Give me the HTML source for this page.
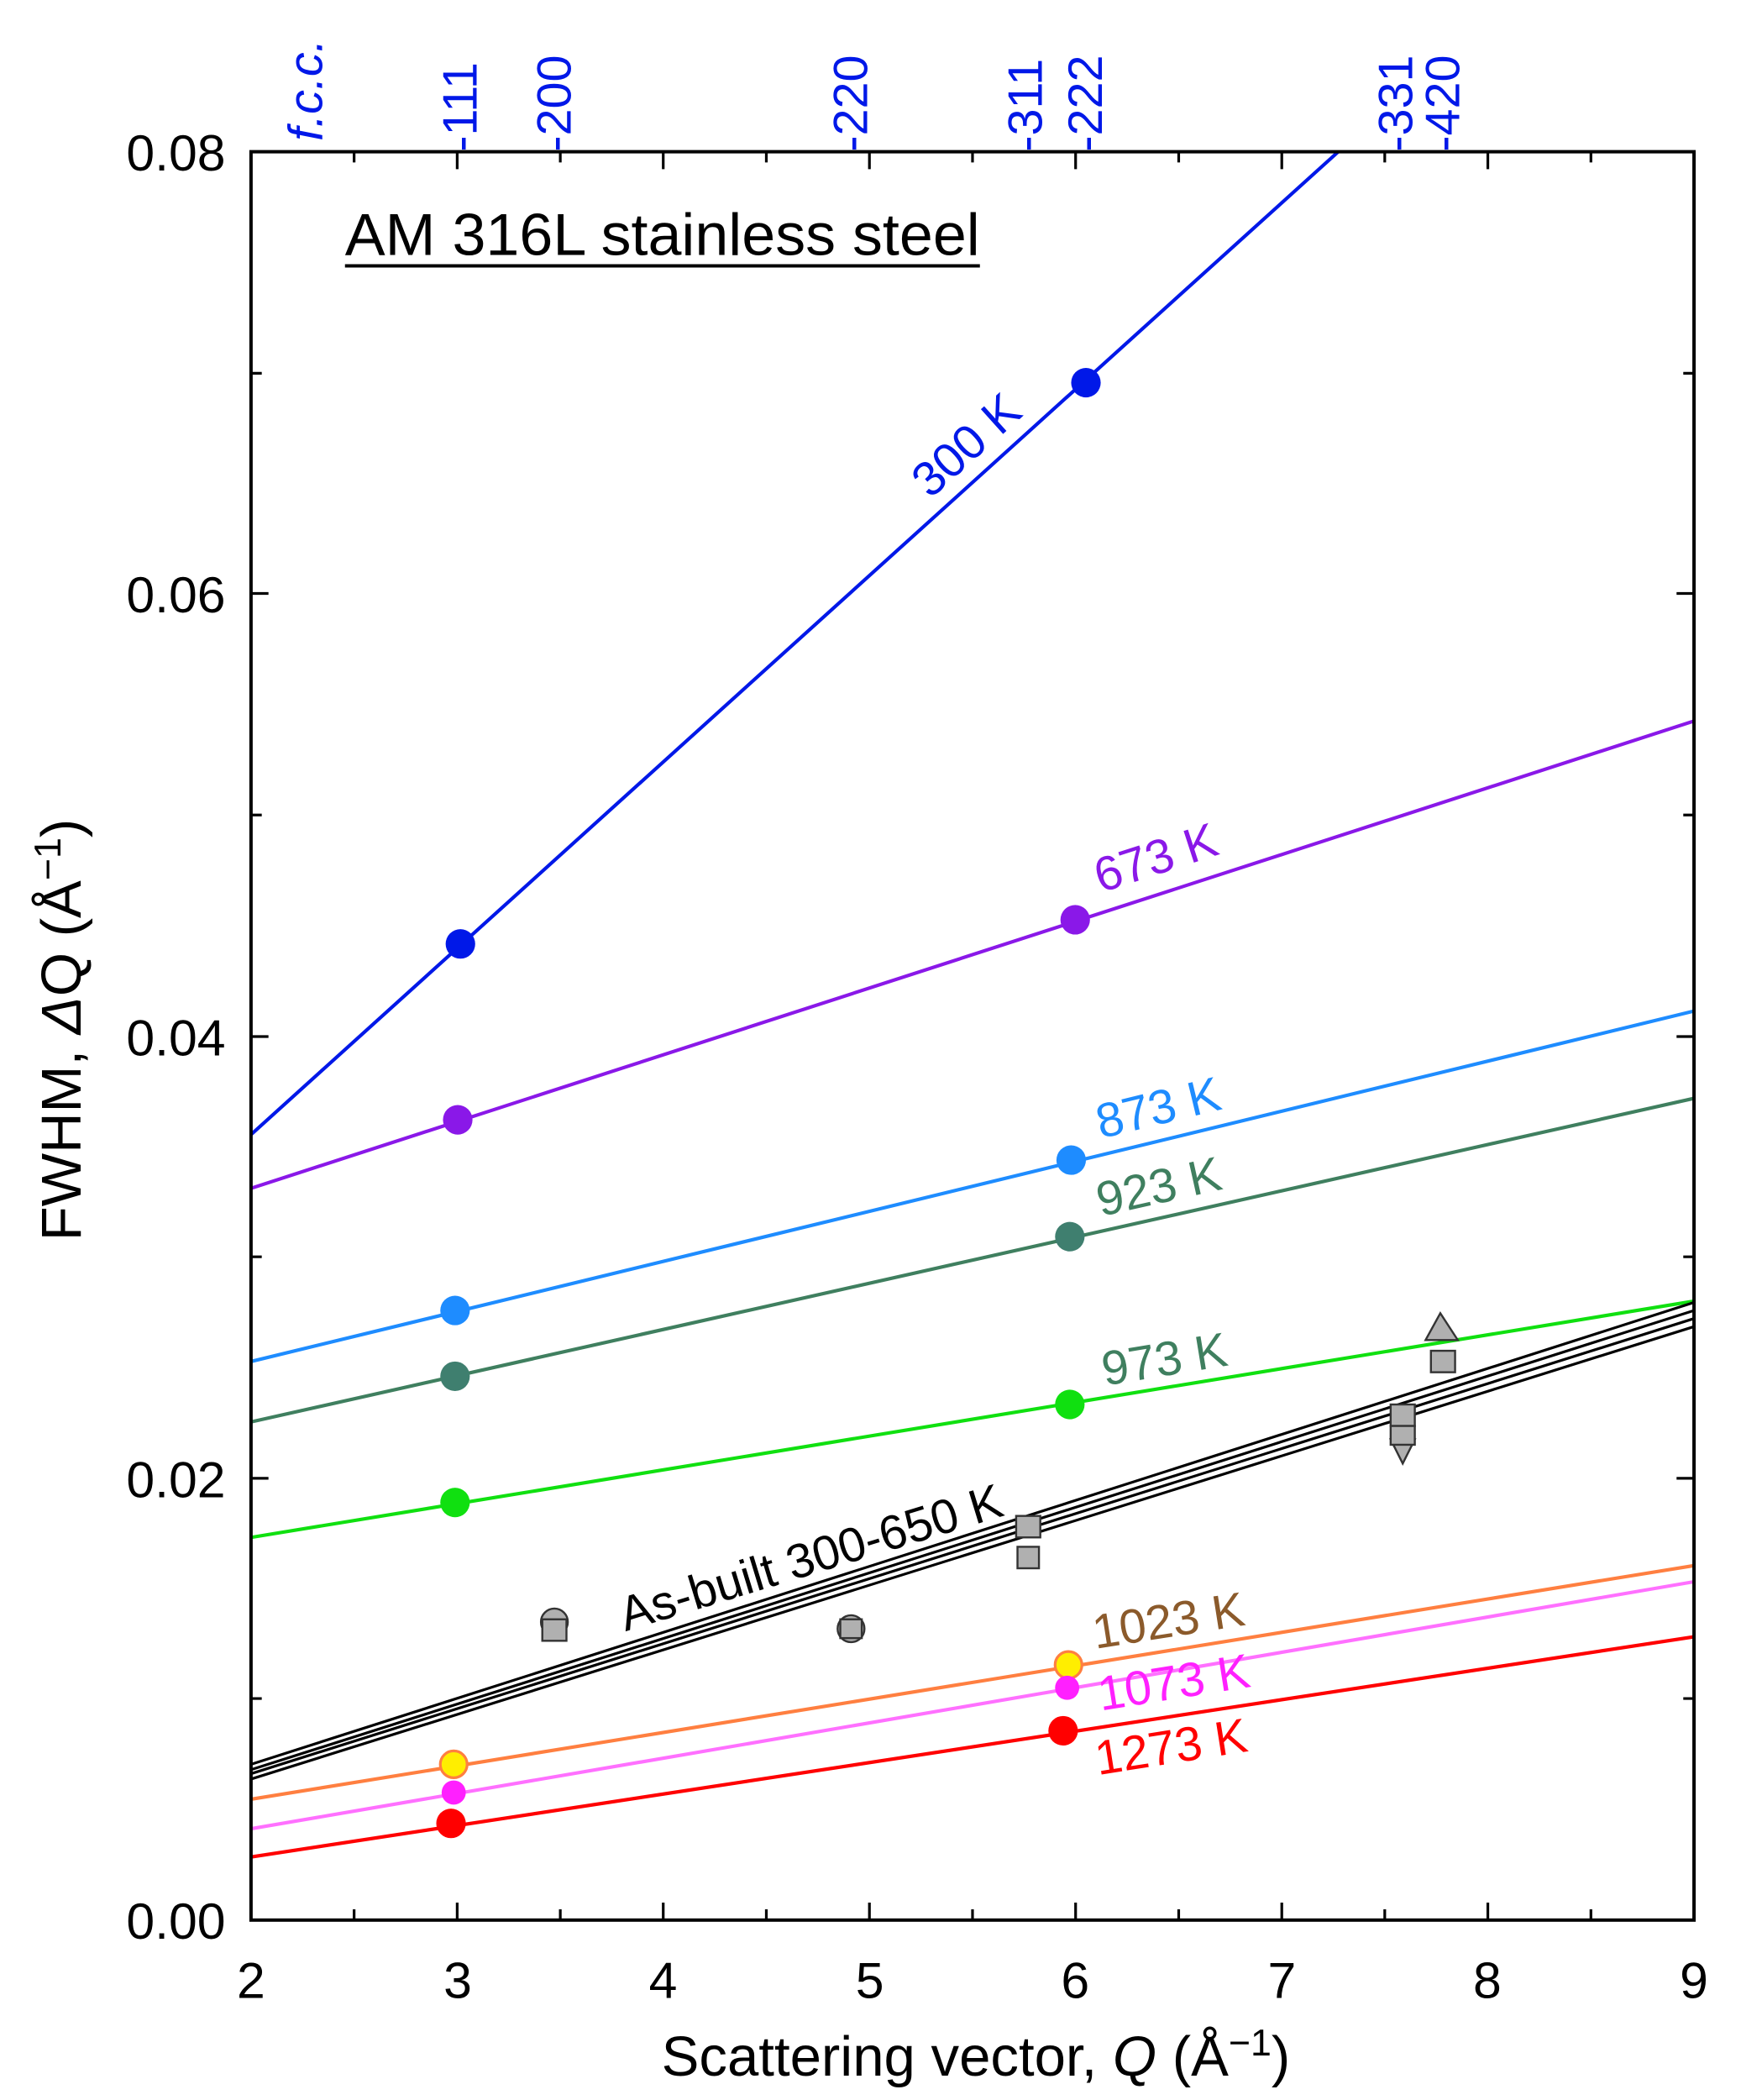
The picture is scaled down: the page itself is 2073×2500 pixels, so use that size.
<!DOCTYPE html>
<html><head><style>html,body{margin:0;padding:0;background:#fff}svg{display:block}</style></head><body>
<svg width="2073" height="2500" viewBox="0 0 1297 1564" preserveAspectRatio="none" xmlns="http://www.w3.org/2000/svg" font-family="Liberation Sans, sans-serif">
<rect width="1297" height="1564" fill="#fff"/>
<defs><clipPath id="c"><rect x="187" y="113" width="1075" height="1317"/></clipPath></defs>
<g clip-path="url(#c)" stroke-width="2.6" fill="none">
<line x1="187" y1="845" x2="997" y2="113" stroke="#0018e8"/>
<line x1="187" y1="885" x2="1262" y2="537" stroke="#8a18e8"/>
<line x1="187" y1="1014" x2="1262" y2="753" stroke="#1e8cff"/>
<line x1="187" y1="1059" x2="1262" y2="818" stroke="#3f7f5f"/>
<line x1="187" y1="1145" x2="1262" y2="969" stroke="#10e010"/>
<g stroke="#000" stroke-width="2"><line x1="187" y1="1314" x2="1262" y2="970"/><line x1="187" y1="1318" x2="1262" y2="976"/><line x1="187" y1="1321" x2="1262" y2="982"/><line x1="187" y1="1325" x2="1262" y2="988"/></g>
<line x1="187" y1="1340" x2="1262" y2="1166" stroke="#ff7f40"/>
<line x1="187" y1="1362" x2="1262" y2="1178" stroke="#ff70ff"/>
<line x1="187" y1="1383" x2="1262" y2="1219" stroke="#ff0000"/>
</g>
<g>
<circle cx="343" cy="703" r="11" fill="#0018e8"/><circle cx="809" cy="285" r="11" fill="#0018e8"/>
<circle cx="341" cy="834" r="11" fill="#8a18e8"/><circle cx="801" cy="685" r="11" fill="#8a18e8"/>
<circle cx="339" cy="976" r="11" fill="#1e8cff"/><circle cx="798" cy="864" r="11" fill="#1e8cff"/>
<circle cx="339" cy="1025" r="11" fill="#3f7f6f"/><circle cx="797" cy="921" r="11" fill="#3f7f6f"/>
<circle cx="339" cy="1119" r="11" fill="#10e010"/><circle cx="797" cy="1046" r="11" fill="#10e010"/>
<circle cx="338" cy="1314" r="10" fill="#ffee00" stroke="#ff7f40" stroke-width="2"/><circle cx="796" cy="1240" r="10" fill="#ffee00" stroke="#ff7f40" stroke-width="2"/>
<circle cx="338" cy="1335" r="9" fill="#ff20ff"/><circle cx="795" cy="1257" r="9" fill="#ff20ff"/>
<circle cx="336" cy="1358" r="11" fill="#ff0000"/><circle cx="792" cy="1289" r="11" fill="#ff0000"/>
</g>
<g fill="#b0b0b0" stroke="#333" stroke-width="1.5">
<circle cx="413" cy="1208" r="10"/><rect x="404" y="1206" width="18" height="16"/>
<circle cx="634" cy="1213" r="10"/><rect x="626" y="1206" width="16" height="14"/>
<rect x="757" y="1129" width="18" height="16"/><rect x="758" y="1152" width="16" height="16"/>
<polygon points="1045,1090 1036,1072 1054,1072"/><rect x="1036" y="1046" width="18" height="16"/><rect x="1036" y="1062" width="18" height="14"/>
<polygon points="1073,978 1062,998 1086,998"/><rect x="1066" y="1006" width="18" height="16"/>
</g>
<rect x="187" y="113" width="1075" height="1317" fill="none" stroke="#000" stroke-width="2.5"/>
<g stroke="#000" stroke-width="2">
<path d="M340.6 1430v-13M494.1 1430v-13M647.7 1430v-13M801.3 1430v-13M954.9 1430v-13M1108.4 1430v-13M340.6 113v13M494.1 113v13M647.7 113v13M801.3 113v13M954.9 113v13M1108.4 113v13"/>
<path d="M263.8 1430v-8M417.4 1430v-8M570.9 1430v-8M724.5 1430v-8M878.1 1430v-8M1031.6 1430v-8M1185.2 1430v-8M263.8 113v8M417.4 113v8M570.9 113v8M724.5 113v8M878.1 113v8M1031.6 113v8M1185.2 113v8"/>
<path d="M187 1101h13M187 772h13M187 442h13M1262 1101h-13M1262 772h-13M1262 442h-13M187 1265h8M187 936h8M187 607h8M187 278h8M1262 1265h-8M1262 936h-8M1262 607h-8M1262 278h-8"/>
</g>
<g font-size="38" fill="#000" text-anchor="middle">
<text x="187" y="1488">2</text><text x="341" y="1488">3</text><text x="494" y="1488">4</text><text x="648" y="1488">5</text><text x="801" y="1488">6</text><text x="955" y="1488">7</text><text x="1108" y="1488">8</text><text x="1262" y="1488">9</text>
</g>
<g font-size="38" fill="#000" text-anchor="end">
<text x="168" y="1444">0.00</text><text x="168" y="1115">0.02</text><text x="168" y="786">0.04</text><text x="168" y="456">0.06</text><text x="168" y="127">0.08</text>
</g>
<text x="727" y="1546" font-size="42" text-anchor="middle">Scattering vector, <tspan font-style="italic">Q</tspan> (Å<tspan dy="-15" font-size="28">−1</tspan><tspan dy="15">)</tspan></text>
<text transform="translate(60,767) rotate(-90)" font-size="42" text-anchor="middle">FWHM, <tspan font-style="italic">Δ</tspan>Q (Å<tspan dy="-15" font-size="28">−1</tspan><tspan dy="15">)</tspan></text>
<text x="257" y="190" font-size="44" textLength="473" lengthAdjust="spacingAndGlyphs">AM 316L stainless steel</text>
<line x1="257" y1="198" x2="730" y2="198" stroke="#000" stroke-width="2.5"/>
<g font-size="36" fill="#0018e8">
<text transform="translate(240,105) rotate(-90)" font-style="italic">f.c.c.</text>
<text transform="translate(355,113) rotate(-90)">-111</text>
<text transform="translate(425,113) rotate(-90)">-200</text>
<text transform="translate(646,113) rotate(-90)">-220</text>
<text transform="translate(776,113) rotate(-90)">-311</text>
<text transform="translate(821,113) rotate(-90)">-222</text>
<text transform="translate(1052,113) rotate(-90)">-331</text>
<text transform="translate(1087,113) rotate(-90)">-420</text>
</g>
<g font-size="36">
<text transform="translate(693,372) rotate(-42)" fill="#0018e8">300 K</text>
<text transform="translate(820,665) rotate(-18)" fill="#8a18e8">673 K</text>
<text transform="translate(820,848) rotate(-13.6)" fill="#1e8cff">873 K</text>
<text transform="translate(820,906) rotate(-12.6)" fill="#3f7f5f">923 K</text>
<text transform="translate(823,1032) rotate(-9.3)" fill="#3f7f5f">973 K</text>
<text transform="translate(466,1215) rotate(-17)" fill="#000">As-built 300-650 K</text>
<text transform="translate(816,1228) rotate(-9)" fill="#8b5a2b">1023 K</text>
<text transform="translate(820,1274) rotate(-9)" fill="#ff20ff">1073 K</text>
<text transform="translate(818,1322) rotate(-9)" fill="#ff0000">1273 K</text>
</g>
</svg>
</body></html>
